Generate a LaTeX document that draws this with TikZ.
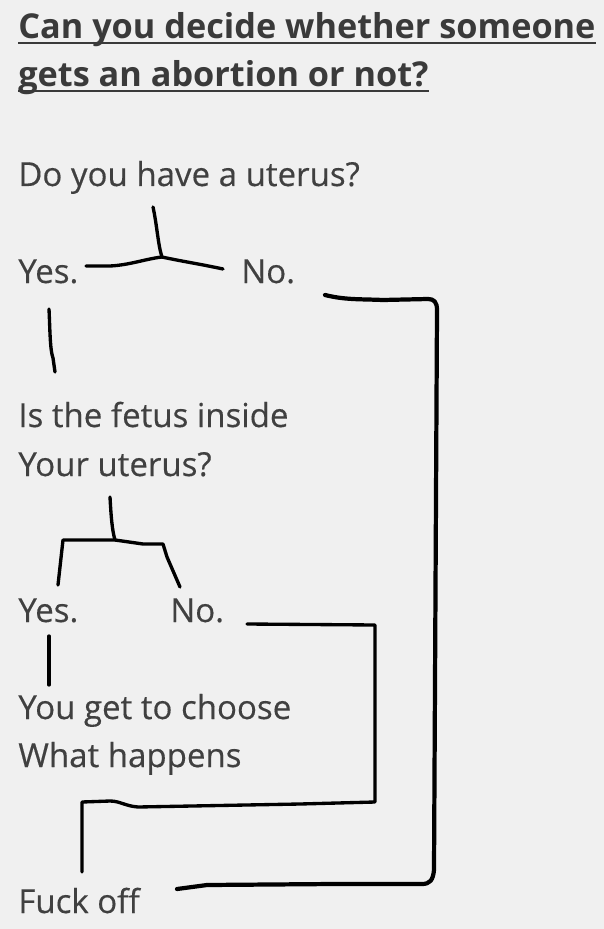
\documentclass[tikz,border=0pt]{standalone}
\usepackage{fontspec}
\setmainfont{Open Sans}
\newfontfamily\notefont[FakeBold=0.35]{Open Sans}
\usetikzlibrary{positioning,calc}
\definecolor{paper}{RGB}{240,240,240}
\definecolor{ink}{RGB}{64,64,64}
\definecolor{headink}{RGB}{58,58,58}
\tikzset{
    txt/.style      = {anchor=base west, inner sep=0pt, text=ink, font=\notefont\fontsize{18.8}{22}\selectfont},
    headline/.style = {txt, text=headink, font=\fontsize{19.5}{23}\selectfont\bfseries},
    uline/.style    = {draw=headink, line width=1.4pt},
    pen/.style      = {draw=black, line width=1.9pt, line cap=round, line join=round},
    bigpen/.style   = {pen, line width=2.4pt}
}

\begin{document}
\begin{tikzpicture}[x=0.02cm, y=-0.02cm]

    % --- Paper ---
    \fill[paper] (0,0) rectangle (604,929);
    \useasboundingbox (0,0) rectangle (604,929);

    % --- Title ---
    \node[headline] (title_a) at (18,39) {Can you decide whether someone};
    \node[headline] (title_b) at (18,87) {gets an abortion or not?};
    \draw[uline] ($(title_a.base west)+(0,4)$) -- ($(title_a.base east)+(0,4)$);
    \draw[uline] ($(title_b.base west)+(0,4)$) -- ($(title_b.base east)+(0,4)$);

    % --- Texts ---
    \node[txt] (q_uterus) at (18,186) {Do you have a uterus?};
    \node[txt] (yes_a) at (18,283) {Yes.};
    \node[txt] (no_a) at (241,283) {No.};
    \node[txt] (q_fetus) at (18,427) {Is the fetus inside};
    \node[txt] (q_fetus2) at (18,476) {Your uterus?};
    \node[txt] (yes_b) at (18,622) {Yes.};
    \node[txt] (no_b) at (170,622) {No.};
    \node[txt] (choose) at (18,719) {You get to choose};
    \node[txt] (choose2) at (18,767) {What happens};
    \node[txt] (off) at (18,913) {Fuck off};

    % --- Ends of the strokes ---
    \coordinate (stem_a) at (153,207);
    \coordinate (fork_a) at (162,257);
    \coordinate (arm_al) at (86,266);
    \coordinate (arm_ar) at (223,269);
    \coordinate (drop_a1) at (49,309);
    \coordinate (drop_a2) at (55,372);
    \coordinate (stem_b) at (110,497);
    \coordinate (fork_b) at (115,540);
    \coordinate (leg_bl) at (58,585);
    \coordinate (leg_br) at (180,587);
    \coordinate (drop_b1) at (49,636);
    \coordinate (drop_b2) at (49,685);
    \coordinate (no_a_out) at (325,295);
    \coordinate (no_b_out) at (247,624);
    \coordinate (off_top) at (82,872);
    \coordinate (off_in) at (177,889);

    % --- First question ---
    \draw[pen] (stem_a) .. controls (157,225) and (158,245) .. (fork_a);
    \draw[pen] (arm_al) -- (110,266) .. controls (130,265) and (145,259) .. (fork_a)
        .. controls (180,261) and (200,264) .. (arm_ar);
    \draw[pen] (drop_a1) .. controls (50,330) and (50,350) .. (53,358) -- (drop_a2);

    % --- Second question ---
    \draw[pen] (stem_b) .. controls (111,515) and (112,530) .. (fork_b);
    \draw[pen] (leg_bl) -- (63,540) -- (fork_b) -- (143,544) -- (163,544) -- (167,557) -- (leg_br);
    \draw[pen] (drop_b1) -- (drop_b2);

    % --- Both No. lead to the bottom ---
    \draw[pen] (no_b_out) -- (375,625) -- (375,802) -- (300,804) -- (138,807)
        .. controls (125,806) and (120,801) .. (110,801) -- (82,802) -- (off_top);
    \draw[bigpen] (no_a_out) .. controls (345,300) and (360,299) .. (383,300) -- (428,299)
        .. controls (434,299) and (437,302) .. (437,310) -- (434,870)
        .. controls (433,880) and (430,884) .. (422,884) -- (333,884) -- (207,885) -- (off_in);

\end{tikzpicture}
\end{document}
